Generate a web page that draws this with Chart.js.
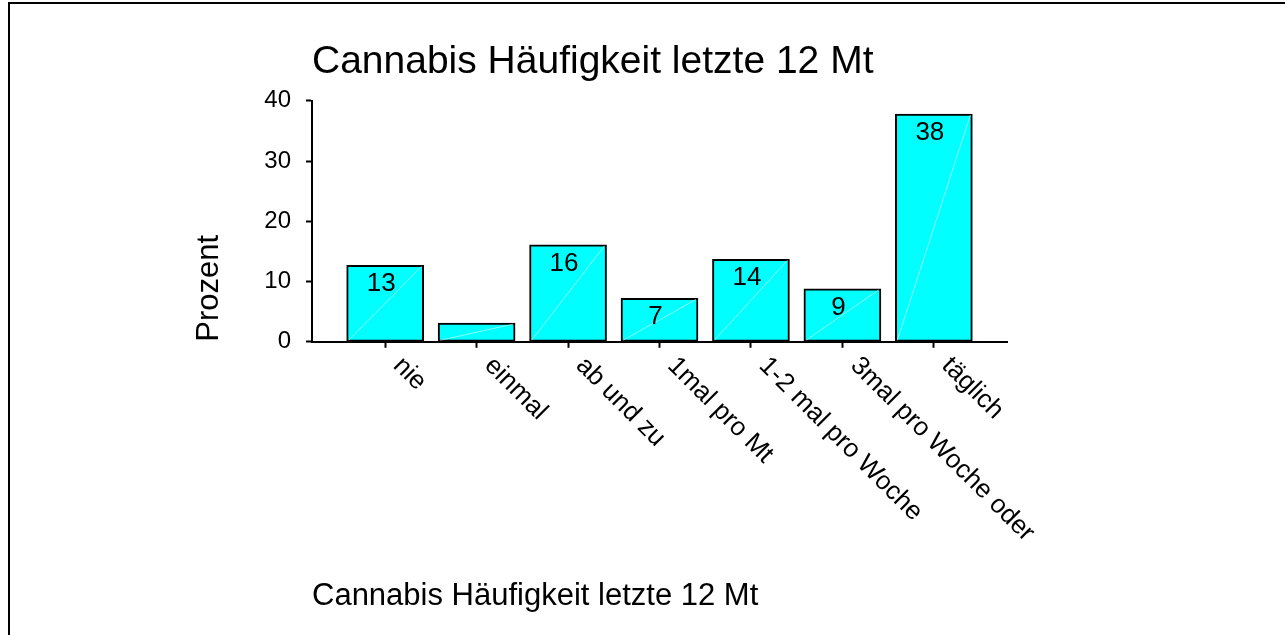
<!DOCTYPE html>
<html>
<head>
<meta charset="utf-8">
<title>Cannabis Häufigkeit letzte 12 Mt</title>
<script src="https://cdn.jsdelivr.net/npm/chart.js@4.4.1/dist/chart.umd.min.js"></script>
<style>
  html, body { margin: 0; padding: 0; background: #fff; }
  #wrap { position: relative; width: 1285px; height: 635px; }
</style>
</head>
<body>
<div id="wrap"><canvas id="myChart"></canvas></div>
<script>
const categories = ["nie", "einmal", "ab und zu", "1mal pro Mt", "1-2 mal pro Woche", "3mal pro Woche oder", "täglich"];
const percentValues = [12.7, 3.1, 16.1, 7.2, 13.7, 8.8, 37.8];
const yTicks = [0, 10, 20, 30, 40];
const chartTitle = "Cannabis Häufigkeit letzte 12 Mt";
const yAxisTitle = "Prozent";

const FONT = "'Liberation Sans', Arial, sans-serif";

// white page + the two frame lines of the cut-out
const framePlugin = {
    id: "frame",
    beforeDraw(chart) {
        const ctx = chart.ctx;
        ctx.save();
        ctx.fillStyle = "#fff";
        ctx.fillRect(0, 0, chart.width, chart.height);
        ctx.strokeStyle = "#000";
        ctx.lineWidth = 2;
        ctx.beginPath();
        ctx.moveTo(chart.width, 3);
        ctx.lineTo(9, 3);
        ctx.lineTo(9, chart.height);
        ctx.stroke();
        ctx.restore();
    }
};

// faint diagonal in each bar and the rounded value inside it
const barLabelPlugin = {
    id: "barLabels",
    afterDatasetsDraw(chart) {
        const ctx = chart.ctx;
        const bars = chart.getDatasetMeta(0).data;
        ctx.save();
        bars.forEach((bar, i) => {
            const half = bar.width / 2;
            ctx.strokeStyle = "rgba(255,255,255,0.55)";
            ctx.lineWidth = 1;
            ctx.beginPath();
            ctx.moveTo(bar.x - half + 2, bar.base - 1);
            ctx.lineTo(bar.x + half - 2, bar.y + 1);
            ctx.stroke();
            if (bar.base - bar.y < 30) return;
            ctx.fillStyle = "#000";
            ctx.font = "26px " + FONT;
            ctx.textAlign = "center";
            ctx.textBaseline = "alphabetic";
            ctx.fillText(String(Math.round(percentValues[i])), bar.x - 4, bar.y + 26);
        });
        ctx.restore();
    }
};

// category names, turned 45 degrees clockwise, starting at each tick
const xLabelPlugin = {
    id: "xLabels",
    afterDraw(chart) {
        const ctx = chart.ctx;
        const x = chart.scales.x;
        ctx.save();
        ctx.font = "26px " + FONT;
        ctx.fillStyle = "#000";
        ctx.textAlign = "left";
        ctx.textBaseline = "alphabetic";
        categories.forEach((label, i) => {
            ctx.save();
            ctx.translate(x.getPixelForValue(i) + 7, chart.chartArea.bottom + 25);
            ctx.rotate(Math.PI / 4);
            ctx.fillText(label, 0, 0);
            ctx.restore();
        });
        ctx.restore();
    }
};

const myChart = document.querySelector("#myChart").getContext("2d");

const ourCanvas = new Chart(myChart, {
    type: "bar",
    data: {
        datasets: [{
            label: yAxisTitle,
            data: percentValues.map((v, i) => ({ x: i, y: v })),
            backgroundColor: "#00ffff",
            borderColor: "#000",
            borderWidth: 2,
            borderSkipped: false,
            barThickness: 77
        }]
    },
    options: {
        responsive: true,
        maintainAspectRatio: false,
        animation: false,
        layout: { padding: { top: 0, left: 0, right: 278, bottom: 0 } },
        plugins: {
            legend: { display: false },
            tooltip: { enabled: false },
            title: {
                display: true,
                text: chartTitle,
                align: "start",
                fullSize: false,
                color: "#000",
                font: { family: FONT, size: 39, weight: "normal" },
                padding: { top: 39, bottom: 15 }
            },
            subtitle: {
                display: true,
                text: chartTitle,
                position: "bottom",
                align: "start",
                fullSize: false,
                color: "#000",
                font: { family: FONT, size: 31, weight: "normal" },
                padding: { top: 10, bottom: 20 }
            }
        },
        scales: {
            x: {
                type: "linear",
                offset: false,
                min: -0.8,
                max: 6.8,
                afterBuildTicks: (scale) => { scale.ticks = categories.map((c, i) => ({ value: i })); },
                afterFit: (scale) => { scale.height = 226; },
                ticks: { display: false },
                grid: { offset: false, drawOnChartArea: false, drawTicks: true, tickLength: 6, tickColor: "#000", tickWidth: 2 },
                border: { display: true, color: "#000", width: 2 }
            },
            y: {
                min: 0,
                max: 40,
                afterBuildTicks: (scale) => { scale.ticks = yTicks.map(v => ({ value: v })); },
                afterFit: (scale) => { scale.width = 312; },
                ticks: { color: "#000", padding: 15, font: { family: FONT, size: 24 } },
                grid: { drawOnChartArea: false, drawTicks: true, tickLength: 6, tickColor: "#000", tickWidth: 2 },
                border: { display: true, color: "#000", width: 2 },
                title: {
                    display: true,
                    text: yAxisTitle,
                    align: "start",
                    color: "#000",
                    font: { family: FONT, size: 31, weight: "normal" },
                    padding: { top: 191, bottom: 0 }
                }
            }
        }
    },
    plugins: [framePlugin, barLabelPlugin, xLabelPlugin]
});
</script>
</body>
</html>
